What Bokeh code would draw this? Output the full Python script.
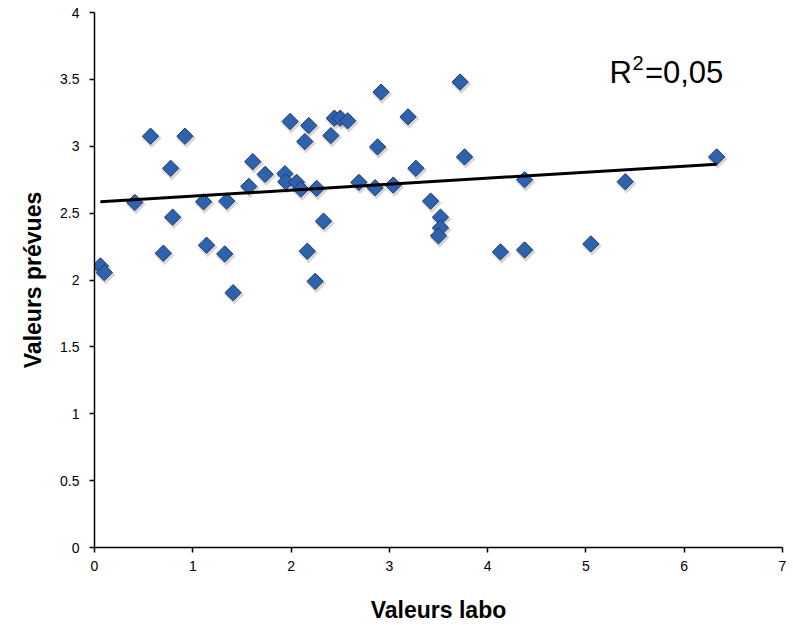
import math
from bokeh.plotting import figure
from bokeh.models import FixedTicker, CustomJSTickFormatter, Label, Range1d, ColumnDataSource
from bokeh.transform import dodge
from bokeh.embed import file_html
from bokeh.resources import INLINE

# Data
labo = [0.06, 0.10, 0.41, 0.57, 0.775, 0.795, 0.70, 0.92, 1.11, 1.14,
        1.325, 1.345, 1.41, 1.57, 1.61, 1.736, 1.937, 1.947, 2.056, 2.10,
        1.99, 2.18, 2.14, 2.26, 2.33, 2.165, 2.245, 2.405, 2.44, 2.50,
        2.576, 2.915, 2.88, 2.69, 2.855, 3.04, 3.19, 3.27, 3.72, 3.765,
        3.42, 3.52, 3.52, 3.50, 4.13, 4.376, 4.376, 5.05, 5.40, 6.33]
prevues = [2.105, 2.055, 2.58, 3.075, 2.835, 2.47, 2.20, 3.075, 2.585, 2.26,
           2.195, 2.59, 1.905, 2.70, 2.885, 2.79, 2.795, 2.735, 2.73, 2.68,
           3.185, 3.155, 3.035, 2.685, 2.44, 2.215, 1.99, 3.08, 3.21, 3.21,
           3.19, 3.405, 2.995, 2.73, 2.69, 2.71, 3.22, 2.835, 3.48, 2.92,
           2.59, 2.47, 2.39, 2.33, 2.21, 2.225, 2.75, 2.27, 2.735, 2.92]
trend_x = [0.06, 6.33]
trend_y = [2.585, 2.865]
x_ticks = [0, 1, 2, 3, 4, 5, 6, 7]
y_ticks = [0, 0.5, 1, 1.5, 2, 2.5, 3, 3.5, 4]
r2_parts = ["R", "2", "=0,05"]

src = ColumnDataSource(dict(x=labo, y=prevues))

p = figure(width=793, height=625, output_backend="svg", toolbar_location=None,
           x_range=Range1d(0, 7), y_range=Range1d(0, 4),
           min_border_left=94, min_border_right=11, min_border_top=12,
           min_border_bottom=78)
p.outline_line_color = None
p.xgrid.visible = False
p.ygrid.visible = False
p.background_fill_color = "white"
p.border_fill_color = "white"

p.xaxis.ticker = FixedTicker(ticks=x_ticks)
p.yaxis.ticker = FixedTicker(ticks=y_ticks)
p.yaxis.formatter = CustomJSTickFormatter(code="return tick.toString();")
for ax in (p.xaxis[0], p.yaxis[0]):
    ax.axis_line_color = "black"
    ax.axis_line_width = 1.5
    ax.major_tick_line_color = "black"
    ax.major_tick_line_width = 1.5
    ax.major_tick_out = 5
    ax.major_tick_in = 0
    ax.minor_tick_line_color = None
    ax.major_label_text_font = "Liberation Sans"
    ax.major_label_text_font_size = "14px"
    ax.major_label_text_color = "black"
    ax.axis_label_text_font = "Liberation Sans"
    ax.axis_label_text_font_size = "23px"
    ax.axis_label_text_font_style = "bold"
    ax.axis_label_text_color = "black"
p.xaxis.axis_label = "Valeurs labo"
p.yaxis.axis_label = "Valeurs prévues"
p.xaxis.major_label_standoff = 8
p.yaxis.major_label_standoff = 10
p.xaxis.axis_label_standoff = 23
p.yaxis.axis_label_standoff = 11

# shadow
p.scatter(dodge("x", 0.012, range=p.x_range), dodge("y", -0.015, range=p.y_range),
          source=src, marker="square", angle=math.pi / 4, size=14,
          fill_color="#7a7a7a", fill_alpha=0.3, line_color=None)
p.scatter("x", "y", source=src, marker="square", angle=math.pi / 4, size=11.5,
          fill_color="#2f62ad", line_color="#1d3c6e", line_width=1)
p.line(trend_x, trend_y, line_color="black", line_width=3)

common = dict(text_font="Liberation Sans", text_color="black",
              text_baseline="alphabetic", text_align="left")
p.add_layout(Label(x=5.24, y=3.555, text=r2_parts[0], text_font_size="31px", **common))
p.add_layout(Label(x=5.475, y=3.625, text=r2_parts[1], text_font_size="20px", **common))
p.add_layout(Label(x=5.60, y=3.555, text=r2_parts[2], text_font_size="31px", **common))

open("out.html", "w").write(file_html(p, INLINE))
